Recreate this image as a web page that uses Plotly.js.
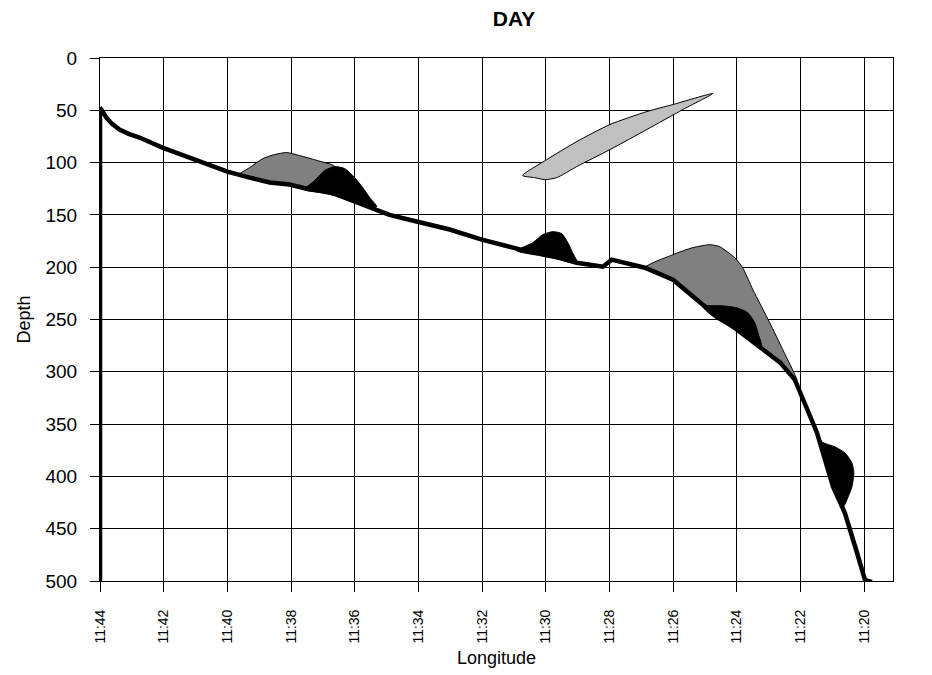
<!DOCTYPE html>
<html>
<head>
<meta charset="utf-8">
<script src="https://cdn.plot.ly/plotly-3.0.1.min.js"></script>
<style>
  html, body { margin: 0; padding: 0; background: #fff; }
  #chart { width: 932px; height: 675px; }
</style>
</head>
<body>
<div id="chart"></div>
<script>
// Longitude is stored as arc-minutes past 11 degrees; depth in metres.
const tickMinutes = [44, 42, 40, 38, 36, 34, 32, 30, 28, 26, 24, 22, 20];
const tickLabels = ['11:44', '11:42', '11:40', '11:38', '11:36', '11:34', '11:32',
                    '11:30', '11:28', '11:26', '11:24', '11:22', '11:20'];

// Bottom profile along the transect
const floorLon = [44.00, 44.00, 43.92, 43.80, 43.62, 43.39, 43.10, 42.76, 42.04, 41.03, 40.00, 39.30, 38.67,
                  38.05, 37.51, 36.79, 35.94, 34.91, 34.03, 33.02, 32.01, 30.82, 30.03,
                  29.03, 28.21, 27.93, 27.68, 26.89, 26.01, 25.07, 24.00, 23.28, 22.65,
                  22.18, 21.49, 20.98, 20.61, 20.23, 19.98, 19.76];
const floorDepth = [500, 47.4, 51, 57, 63, 68.4, 72.5, 76, 85.6, 97, 108.6, 114.4, 119,
                    121, 125, 128, 138, 150, 156.5, 164, 173.7, 183, 187,
                    195.7, 199.5, 192.8, 194.7, 200.5, 212, 235.9, 259.8, 276, 291,
                    307.7, 358, 410, 435, 473, 499, 501];

// Fish school outlines (dark grey = diffuse layer, black = dense, light grey = pelagic)
const layerALon = [39.68, 39.30, 38.89, 38.52, 38.14, 37.73, 37.17, 36.63, 36.79, 37.51, 38.05, 38.67, 39.30, 39.68];
const layerADepth = [112.4, 104.8, 96.2, 92.3, 90.4, 93.3, 98.1, 103.8, 121, 124.9, 121, 119.1, 114.4, 112.4];

const layerBLon = [26.89, 26.01, 25.39, 24.85, 24.54, 24.07, 23.82, 23.50, 22.97, 22.56, 22.12,
                   22.65, 23.28, 24.00, 25.07, 26.01, 26.89];
const layerBDepth = [200.5, 188.0, 181.3, 178.5, 180.4, 190.9, 200.5, 221.5, 253.1, 278.9, 307.7,
                     291.4, 276.1, 259.8, 235.9, 212.0, 200.5];

const pelagicLon = [30.73, 29.97, 29.03, 27.99, 26.83, 26.01, 24.76, 25.70, 26.83, 27.99, 29.03, 29.66, 30.03, 30.35, 30.73];
const pelagicDepth = [112.4, 97.1, 79.9, 63.6, 51.2, 44.5, 34.0, 49.3, 68.4, 87.6, 103.8, 114.4, 116.3, 114.4, 112.4];

const denseALon = [37.58, 37.26, 36.95, 36.63, 36.32, 36.00, 35.75, 35.53, 35.31, 35.94, 36.48, 37.10, 37.58];
const denseADepth = [125.8, 117.2, 107.7, 103.8, 105.7, 114.4, 123.9, 133.5, 142.1, 138.3, 132.5, 128.7, 125.8];

const denseBLon = [30.92, 30.41, 30.10, 29.78, 29.50, 29.31, 29.16, 29.00, 29.56, 30.19, 30.92];
const denseBDepth = [184.2, 176.6, 168.9, 166.0, 167.9, 176.6, 186.1, 196.7, 192.8, 189.0, 184.2];

const denseCLon = [25.07, 24.54, 24.00, 23.66, 23.44, 23.34, 23.22, 24.00, 24.70, 25.07];
const denseCDepth = [237.8, 236.8, 238.8, 243.5, 253.1, 262.7, 277.0, 260.8, 248.3, 237.8];

const denseDLon = [21.49, 21.33, 20.92, 20.61, 20.39, 20.33, 20.39, 20.51, 20.67, 20.99, 21.24, 21.49];
const denseDDepth = [358.4, 367.0, 371.8, 377.5, 387.1, 396.7, 410.0, 419.6, 429.2, 408.1, 384.2, 358.4];

function school(x, y, fillcolor, lineWidth) {
  return {
    x: x, y: y, type: 'scatter', mode: 'lines', fill: 'toself',
    fillcolor: fillcolor,
    line: { color: '#000000', width: lineWidth, shape: 'spline', smoothing: 0.6 },
    hoverinfo: 'skip', showlegend: false
  };
}

const traces = [
  school(layerALon, layerADepth, '#808080', 1),
  school(layerBLon, layerBDepth, '#808080', 1),
  school(pelagicLon, pelagicDepth, '#c0c0c0', 1),
  school(denseALon, denseADepth, '#000000', 1),
  school(denseBLon, denseBDepth, '#000000', 1),
  school(denseCLon, denseCDepth, '#000000', 1),
  school(denseDLon, denseDDepth, '#000000', 1),
  {
    x: floorLon, y: floorDepth, type: 'scatter', mode: 'lines',
    line: { color: '#000000', width: 4.5 },
    hoverinfo: 'skip', showlegend: false
  }
];

const font = 'Liberation Sans, Arial, sans-serif';

const layout = {
  width: 932, height: 675,
  margin: { l: 100, r: 39, t: 58, b: 94 },
  paper_bgcolor: '#ffffff', plot_bgcolor: '#ffffff',
  font: { family: font, color: '#000000' },
  title: {
    text: '<b>DAY</b>', font: { family: font, size: 21, color: '#000000' },
    x: 0.522, xref: 'paper', xanchor: 'center',
    y: 0.972, yref: 'container', yanchor: 'middle'
  },
  xaxis: {
    range: [44.0, 19.1],
    tickmode: 'array', tickvals: tickMinutes, ticktext: tickLabels,
    tickangle: -90, tickfont: { family: font, size: 14 },
    ticks: 'outside', ticklen: 10, tickcolor: '#000000', tickwidth: 1,
    ticklabelstandoff: 12,
    showgrid: true, gridcolor: '#000000', gridwidth: 1,
    showline: true, linecolor: '#000000', linewidth: 1, mirror: true,
    zeroline: false,
    title: { text: 'Longitude', font: { family: font, size: 18 }, standoff: 8 }
  },
  yaxis: {
    range: [500, 0],
    tickmode: 'linear', tick0: 0, dtick: 50,
    tickfont: { family: font, size: 19 },
    ticks: 'outside', ticklen: 9, tickcolor: '#000000', tickwidth: 1,
    ticklabelstandoff: 9,
    showgrid: true, gridcolor: '#000000', gridwidth: 1,
    showline: true, linecolor: '#000000', linewidth: 1, mirror: true,
    zeroline: false,
    title: { text: 'Depth', font: { family: font, size: 18 }, standoff: 10 }
  }
};

Plotly.newPlot('chart', traces, layout, { displayModeBar: false, staticPlot: true });
</script>
</body>
</html>
